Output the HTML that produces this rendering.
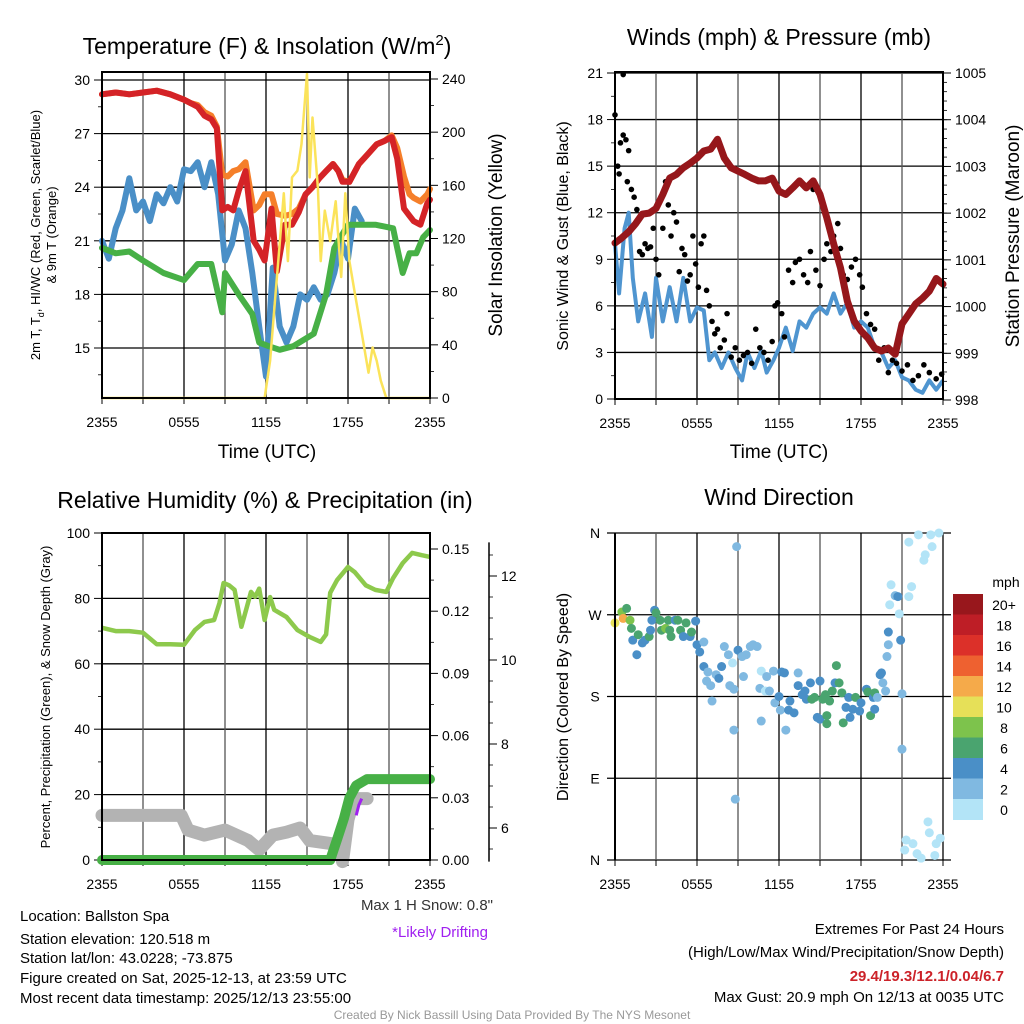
<!DOCTYPE html>
<html><head><meta charset="utf-8">
<style>
body{margin:0;background:#fff;}
svg{display:block;font-family:"Liberation Sans",sans-serif;}
</style></head>
<body>
<svg id="fig" width="1024" height="1024" viewBox="0 0 1024 1024" xmlns="http://www.w3.org/2000/svg">
<rect width="1024" height="1024" fill="#fff"/>
<g id="p1"></g>
<g id="p2"></g>
<g id="p3"></g>
<g id="p4"></g>
<g id="txt" font-size="15" fill="#000">
<text x="20" y="921">Location: Ballston Spa</text>
<text x="20" y="944">Station elevation: 120.518 m</text>
<text x="20" y="963">Station lat/lon: 43.0228; -73.875</text>
<text x="20" y="983">Figure created on Sat, 2025-12-13, at 23:59 UTC</text>
<text x="20" y="1003">Most recent data timestamp: 2025/12/13 23:55:00</text>
<text x="493" y="910" text-anchor="end" fill="#333">Max 1 H Snow: 0.8"</text>
<text x="488" y="937" text-anchor="end" fill="#a020f0">*Likely Drifting</text>
<text x="1004" y="934" text-anchor="end">Extremes For Past 24 Hours</text>
<text x="1004" y="957" text-anchor="end">(High/Low/Max Wind/Precipitation/Snow Depth)</text>
<text x="1004" y="981" text-anchor="end" fill="#cc2229" font-weight="bold">29.4/19.3/12.1/0.04/6.7</text>
<text x="1004" y="1002" text-anchor="end">Max Gust: 20.9 mph On 12/13 at 0035 UTC</text>
<text x="512" y="1019" text-anchor="middle" fill="#999" font-size="12">Created By Nick Bassill Using Data Provided By The NYS Mesonet</text>
</g>
</svg>
<script>
// ---------- DATA ----------
const timeLabels = ["2355","0555","1155","1755","2355"];
// Temperature panel
const tempT   = [0,1,2,3,4,5,6,6.5,7,7.5,8,8.4,8.8,9.2,9.6,10,10.5,11.1,11.5,11.9,12.4,12.8,13.4,13.9,14.4,14.9,15.4,15.9,16.4,16.9,17.3,17.6,18.1,18.8,19.4,20.1,20.7,21.2,21.6,22.1,22.5,22.8,23.3,23.8,24];
const red2m   = [29.2,29.3,29.2,29.3,29.4,29.2,28.9,28.7,28.5,28.0,27.8,27.3,22.7,22.9,22.7,23.8,24.9,21.0,20.5,19.9,22.8,19.3,21.9,21.9,22.6,23.6,24.0,24.5,24.9,25.3,24.9,24.3,24.3,25.3,25.8,26.4,26.6,26.8,25.6,22.8,22.4,22.1,21.9,23.1,23.3];
const orange9m= [29.2,29.3,29.2,29.3,29.4,29.2,28.9,28.7,28.6,28.2,28.0,27.4,24.7,24.6,24.9,25.0,25.4,22.7,23.0,23.6,23.6,22.5,22.4,22.5,22.8,23.6,24.0,24.5,24.9,25.3,24.9,24.4,24.3,25.3,25.8,26.4,26.6,26.9,26.2,24.6,23.6,23.4,23.2,23.6,23.9];
const dewT    = [0,1,2,3,4.5,6,7,8,8.5,8.8,9,10,11,11.5,12.2,13,14,15.5,16.4,17,18,20,21.3,21.6,22,22.5,23,23.5,24];
const dewpt   = [20.6,20.3,20.4,19.9,19.2,18.8,19.7,19.7,18.0,17.0,19.2,18.0,16.9,15.3,15.1,14.9,15.1,15.8,18.0,20.6,21.9,21.9,21.7,20.6,19.2,20.3,20.3,21.2,21.6];
const wcT     = [0,0.5,1,1.5,2,2.5,3,3.5,4,4.5,5,5.5,6,6.5,7,7.5,8,8.5,9,9.5,10,10.5,11,11.5,12,12.5,13,13.5,14,14.5,15,15.5,16,16.5,17,17.5,18,18.5,19];
const windChill=[21,20,21.7,22.7,24.5,22.7,23.2,22.1,23.6,23.1,24,23.2,25,24.9,25.4,24,25.4,23.6,19.9,20.8,22.7,21.7,19.2,16.2,13.4,19.5,16.2,15.3,16.2,18,17.7,18.4,17.7,18,19.2,21,20,22.8,22.1];
const solT    = [0,11.9,12.3,12.7,13,13.3,13.6,13.9,14.3,14.6,15,15.2,15.4,15.8,16,16.3,16.7,17.1,17.5,17.8,18.1,18.5,19,19.5,19.8,20.1,20.4,20.8,24];
const solar   = [0,0,28,79,116,154,103,166,171,191,244,166,211,158,103,141,118,148,91,154,103,79,49,19,38,28,13,0,0];
// Wind panel
const windT   = [0,0.3,0.7,1,1.3,1.7,2.2,2.7,3,3.5,4,4.5,5,5.5,6,6.5,6.9,7.3,7.8,8.3,8.8,9.3,9.7,10.2,10.7,11.1,11.6,12,12.5,13,13.5,14,14.5,15,15.5,16,16.5,17,17.5,18,18.5,19,19.5,20,20.5,21,21.5,22,22.5,23,23.5,24];
const windSpd = [10,6.8,11,12,7.8,5,6.8,4,7.8,5,7.2,5,7.8,5,5.9,5.7,2.5,3,2,3,2,1.2,3,2,3.1,1.7,2.5,3.3,4.6,3.1,5,4.6,5.5,5.9,5.5,6.8,5.5,6.2,4.6,5,4.6,3.3,3,2,2.5,1.4,1.2,0.6,0.4,1.2,0.6,1.2];
const presT   = [0,0.5,1,1.5,2,2.5,3,3.5,4,4.5,5,5.5,6,6.5,7,7.5,8,8.5,9,9.5,10,10.5,11,11.5,12,12.5,13,13.5,14,14.5,15,15.5,16,16.5,17,17.5,18,18.5,19,19.5,20,20.5,21,21.5,22,22.5,23,23.5,24];
const pressure= [1001.36,1001.47,1001.6,1001.77,1001.98,1002.0,1002.1,1002.4,1002.75,1002.83,1002.97,1003.07,1003.18,1003.33,1003.37,1003.58,1003.18,1002.97,1002.9,1002.83,1002.75,1002.69,1002.69,1002.75,1002.47,1002.4,1002.54,1002.69,1002.54,1002.69,1002.4,1001.9,1001.34,1000.83,1000.12,999.69,999.48,999.33,999.11,999.05,999.11,998.98,999.63,999.84,1000.06,1000.18,1000.33,1000.6,1000.48];
const gustT   = [0,0.2,0.3,0.4,0.6,0.6,0.8,0.9,1.0,1.2,1.4,1.6,1.8,2.0,2.2,2.4,2.6,2.8,3.0,3.2,3.5,3.7,3.9,4.1,4.3,4.5,4.7,4.9,5.1,5.3,5.5,5.7,5.9,6.1,6.3,6.5,6.7,6.9,7.1,7.3,7.5,7.7,8.0,8.2,8.5,8.8,9.1,9.4,9.7,10.0,10.3,10.6,10.9,11.2,11.5,11.7,11.9,12.2,12.4,12.7,13.0,13.2,13.5,13.8,14.1,14.3,14.5,14.7,15.0,15.3,15.5,15.8,16.0,16.3,16.5,16.7,17.0,17.3,17.6,17.9,18.1,18.4,18.7,19.0,19.3,19.7,20,20.3,20.6,21,21.4,21.8,22.2,22.6,23,23.5,23.9];
const gust    = [18.3,15,14.5,16.5,17,20.9,16.7,14,16,13.5,13,12.2,9.5,9.3,10,9.7,9.8,11,9,8,11,14,12.5,10.5,12,11.4,8.2,9.7,9.3,7.6,8,10.5,8.7,7.2,10,10.5,7,6,5,4.2,4.5,3.3,3.8,5.5,2.7,3.3,2.5,2.8,3.0,2.3,4.5,3.3,3,2.5,3.7,6,6.2,5.5,4,8.3,7.5,8.8,9,8,7.5,9.5,13.5,8.3,7.3,9,10,9.5,10.5,11.3,9.7,8,7.7,8.5,9,8,7.2,5.5,4.8,4.5,2.5,3.3,1.7,2.5,2.3,1.8,2.2,1.2,1.5,2.2,1.7,1.3,1.6];
// Humidity panel
const rhT     = [0,1,2,3,4,5,6,6.8,7.5,8.2,8.6,8.9,9.3,9.7,10.2,10.6,10.9,11.2,11.5,11.9,12.3,12.6,13.5,14.3,15.2,16,16.4,16.7,17.2,18,18.5,19.3,20,20.8,21.3,22,22.7,23.4,24];
const rh      = [71,70,70,69.5,66,66,65.8,70.3,72.8,73.4,78.6,84.7,84,82.6,71.3,77.4,82,80.5,83,73.4,80.4,76.5,74.3,70.3,68.2,66.7,69,81.7,85.6,89.6,88,84,82.6,82,86.2,90.8,93.9,93.2,92.7];
const precipT = [0,16.7,17.2,17.7,18.1,18.6,19.4,24];
const precip  = [0,0,0.01,0.02,0.03,0.036,0.039,0.039];
const snowT   = [0,5.8,6.3,7.5,9,10.7,11.5,12.5,13.5,14.5,15.2,16.5,17.3,17.6,18,18.4,18.8,19.4];
const snow    = [6.3,6.3,5.95,5.83,5.95,5.7,5.48,5.83,5.9,6.0,5.7,5.64,5.6,5.2,6.2,6.67,6.7,6.7];
const driftT  = [18.6,18.8,19.0];
const drift   = [6.3,6.55,6.7];
// Wind direction panel
const dirT = [0,0.5,0.6,0.85,1.1,1.2,1.3,1.7,1.6,2.0,2.2,2.5,2.6,2.7,2.9,3.0,3.3,3.4,3.7,3.9,4.0,4.1,4.4,4.6,4.8,5.0,5.2,5.5,5.6,5.9,6.0,6.2,6.5,6.5,6.8,6.7,7.0,7.1,7.4,7.6,7.8,8.0,8.3,8.4,8.6,8.7,8.9,8.7,8.8,9.0,9.3,9.4,9.6,9.9,10.1,10.4,10.6,10.7,10.7,11.0,11.1,11.3,11.6,11.7,12.0,12.2,12.1,12.4,12.5,12.7,12.8,13.1,13.4,13.4,13.7,13.9,14.0,14.3,14.4,14.6,14.8,15.0,15.0,15.2,15.4,15.5,15.5,15.7,15.9,16.1,16.2,16.4,16.6,16.7,16.9,17.1,17.2,17.4,17.6,17.9,18.0,18.4,18.5,18.7,18.9,19.0,19.0,19.2,19.4,19.5,19.6,19.8,19.9,20.0,20.0,20.1,20.2,20.5,20.7,20.8,20.9,21.0,21.0,21.2,21.3,21.5,21.5,21.7,21.8,22.1,22.2,22.4,22.6,22.7,22.9,23.0,23.1,23.2,23.4,23.5,23.7,23.8];
const dirDeg = [261,273,266,277,264,255,242,248,226,239,242,246,253,264,275,272,264,253,255,264,253,246,264,264,253,246,261,246,251,263,237,229,240,213,207,197,192,175,204,200,213,235,226,192,217,188,345,143,67,231,224,202,226,235,237,235,189,208,153,186,202,186,208,173,180,207,165,206,143,165,175,162,192,206,182,186,177,195,177,179,157,155,197,177,182,159,150,175,186,195,214,195,184,151,168,179,157,166,179,164,173,188,185,159,179,166,184,179,204,206,195,186,224,237,251,281,303,291,290,271,242,183,122,11,22,350,290,301,18,7,358,2,330,336,42,30,358,345,5,18,360,24];
const dirSpd = [10,9,12,7,8,6,4,6,4,4,4,6,4,4,4,7,6,6,9,6,6,6,4,6,6,4,7,4,6,4,4,4,2,4,2,2,2,2,2,4,4,2,2,2,0,2,2,2,2,4,2,2,2,2,2,2,2,0,2,0,2,2,2,2,4,4,2,4,2,4,4,4,4,2,4,4,4,4,6,6,4,4,4,6,6,6,6,6,6,4,6,6,6,6,4,4,4,4,6,4,4,4,6,6,4,4,6,2,4,4,2,2,2,2,4,0,0,2,4,0,4,2,2,0,0,0,0,0,0,0,0,0,0,0,0,0,0,0,0,0,0,0];
const cbLabels = ["20+","18","16","14","12","10","8","6","4","2","0"];
const cbColors = ["#98171c","#be1e26","#dc3029","#ee6130","#f5aa4a","#e6e058","#7dc34c","#4aa46f","#4a8fc7","#80b9e1","#b3e4f7"];

// ---------- HELPERS ----------
const NS="http://www.w3.org/2000/svg";
function mk(parent,tag,attrs,text){const e=document.createElementNS(NS,tag);for(const k in attrs)e.setAttribute(k,attrs[k]);if(text!==undefined)e.textContent=text;parent.appendChild(e);return e;}
const X0=102,X1=430,RX0=615,RX1=943;
function xs(x0,x1){return t=>x0+(x1-x0)*t/24;}
function lin(d0,d1,p0,p1){return v=>p0+(v-d0)*(p1-p0)/(d1-d0);}
function pathOf(ts,vs,fx,fy){return ts.map((t,i)=>(i?"L":"M")+fx(t).toFixed(1)+","+fy(vs[i]).toFixed(1)).join("");}

function frame(g,x0,x1,y0,y1){
  const fx=xs(x0,x1);
  for(let i=0;i<=8;i++){const x=fx(i*3);
    const l=mk(g,"line",{x1:x,x2:x,y1:y0,y2:y1,stroke:i%2?"#555":"#000","stroke-width":1.3});
    
    
    mk(g,"line",{x1:x,x2:x,y1:y1,y2:y1+6,stroke:"#000","stroke-width":1});
  }
  timeLabels.forEach((s,i)=>{const t=mk(g,"text",{x:fx(i*6),y:y1+29,"font-size":14,"text-anchor":"middle"},s);
    
    });
}
function border(g,x0,x1,y0,y1){const r=mk(g,"rect",{x:x0,y:y0,width:x1-x0,height:y1-y0,fill:"none",stroke:"#000","stroke-width":2});
  
  }
function hgrid(g,y,x0,x1){mk(g,"line",{x1:x0,x2:x1,y1:y,y2:y,stroke:"#000","stroke-width":1.3});}
function ytick(g,x,y,label,side,len,fs){
  mk(g,"line",{x1:x,x2:x+(side<0?-len:len),y1:y,y2:y,stroke:"#000","stroke-width":1});
  if(label!==null){const t=mk(g,"text",{x:side<0?x-12:x+12,y:y+5,"font-size":fs||14,"text-anchor":side<0?"end":"start"},label);
    
    }
}
function minor(g,x,y,side){mk(g,"line",{x1:x,x2:x+(side<0?-4:4),y1:y,y2:y,stroke:"#000","stroke-width":0.8});}

// ---------- PANEL 1 ----------
(function(){
  const g=document.getElementById("p1");const Y0=72,Y1=398;
  const fx=xs(X0,X1),fy=lin(30,15,80,348),fs=lin(0,240,398,79);
  [30,27,24,21,18,15].forEach(v=>{hgrid(g,fy(v),X0,X1);ytick(g,X0,fy(v),String(v),-1,8);});
  for(let v=13.5;v<30;v+=3)minor(g,X0,fy(v),-1);
  [0,40,80,120,160,200,240].forEach(v=>ytick(g,X1,fs(v),String(v),1,8,14));
  for(let v=20;v<240;v+=40)minor(g,X1,fs(v),1);
  frame(g,X0,X1,Y0,Y1);
  const s=[[windChill,wcT,"#4a8fc7",6,"wind-chill-line"],[dewpt,dewT,"#47b046",6,"dewpoint-line"],[orange9m,tempT,"#f57f2a",6,"temp-9m-line"],[red2m,tempT,"#d42327",6,"temp-2m-line"]];
  s.forEach(a=>{const p=mk(g,"path",{d:pathOf(a[1],a[0],fx,fy),fill:"none",stroke:a[2],"stroke-width":a[3],"stroke-linejoin":"round","stroke-linecap":"round"});
    
    });
  const sp=mk(g,"path",{d:pathOf(solT,solar,fx,fs),fill:"none",stroke:"#fbe35a","stroke-width":2.5,"stroke-linejoin":"round"});
  
  
  border(g,X0,X1,Y0,Y1);
  const t=mk(g,"text",{x:267,y:54,"font-size":23,"text-anchor":"middle"});t.innerHTML='Temperature (F) &amp; Insolation (W/m<tspan dy="-9" font-size="15">2</tspan><tspan dy="9">)</tspan>';
  
  
  const xl=mk(g,"text",{x:267,y:458,"font-size":19,"text-anchor":"middle"},"Time (UTC)");
  
  
  const yl=mk(g,"text",{transform:"translate(40,235) rotate(-90)","font-size":13,"text-anchor":"middle"});yl.innerHTML='2m T, T<tspan dy="4" font-size="9">d</tspan><tspan dy="-4">, HI/WC (Red, Green, Scarlet/Blue)</tspan>';
  
  
  const yl2=mk(g,"text",{transform:"translate(56,235) rotate(-90)","font-size":13,"text-anchor":"middle"},"& 9m T (Orange)");
  
  
  const yr=mk(g,"text",{transform:"translate(502,235) rotate(-90)","font-size":19,"text-anchor":"middle"},"Solar Insolation (Yellow)");
  
  
})();

// ---------- PANEL 2 ----------
(function(){
  const g=document.getElementById("p2");const Y0=72,Y1=399;
  const fx=xs(RX0,RX1),fy=lin(0,21,399,73),fp=lin(998,1005,400,73);
  [0,3,6,9,12,15,18,21].forEach(v=>{hgrid(g,fy(v),RX0,RX1);ytick(g,RX0,fy(v),String(v),-1,8);});
  for(let v=1.5;v<21;v+=3)minor(g,RX0,fy(v),-1);
  for(let v=998;v<=1005;v++)ytick(g,RX1,fp(v),String(v),1,8);
  for(let v=998;v<1005;v+=0.2)minor(g,RX1,fp(v),1);
  frame(g,RX0,RX1,Y0,Y1);
  const w=mk(g,"path",{d:pathOf(windT,windSpd,fx,fy),fill:"none",stroke:"#4f95d0","stroke-width":4,"stroke-linejoin":"round"});
  
  
  gustT.forEach((t,i)=>{const c=mk(g,"circle",{cx:fx(t),cy:fy(gust[i]),r:2.8,fill:"#000"});
    
    });
  const p=mk(g,"path",{d:pathOf(presT,pressure,fx,fp),fill:"none",stroke:"#96171b","stroke-width":7,"stroke-linejoin":"round","stroke-linecap":"round"});
  
  
  border(g,RX0,RX1,Y0,Y1);
  const t=mk(g,"text",{x:779,y:45,"font-size":23,"text-anchor":"middle"},"Winds (mph) & Pressure (mb)");
  
  
  const xl=mk(g,"text",{x:779,y:458,"font-size":19,"text-anchor":"middle"},"Time (UTC)");
  
  
  const yl=mk(g,"text",{transform:"translate(568,236) rotate(-90)","font-size":16,"text-anchor":"middle"},"Sonic Wind & Gust (Blue, Black)");
  
  
  const yr=mk(g,"text",{transform:"translate(1019,236) rotate(-90)","font-size":19,"text-anchor":"middle"},"Station Pressure (Maroon)");
  
  
})();

// ---------- PANEL 3 ----------
(function(){
  const g=document.getElementById("p3");const Y0=533,Y1=860;
  const fx=xs(X0,X1),fy=lin(0,100,860,533),fpr=lin(0,0.15,860,549),fsn=lin(6,12,828,576);
  [0,20,40,60,80,100].forEach(v=>{hgrid(g,fy(v),X0,X1);ytick(g,X0,fy(v),String(v),-1,8);});
  for(let v=10;v<100;v+=20)minor(g,X0,fy(v),-1);
  [0,0.03,0.06,0.09,0.12,0.15].forEach(v=>ytick(g,X1,fpr(v),v.toFixed(2),1,8));
  for(let v=0.015;v<0.16;v+=0.03)minor(g,X1,fpr(v),1);
  mk(g,"line",{x1:489,x2:489,y1:fsn(5.2),y2:fsn(12.8),stroke:"#000","stroke-width":1.5});
  [6,8,10,12].forEach(v=>ytick(g,489,fsn(v),String(v),1,8));
  for(let v=5.5;v<13;v+=0.5)if(v%2)minor(g,489,fsn(v),1);
  frame(g,X0,X1,Y0,Y1);
  const sn=mk(g,"path",{d:pathOf(snowT,snow,fx,fsn),fill:"none",stroke:"#b3b3b3","stroke-width":13,"stroke-linejoin":"round","stroke-linecap":"round"});
  
  
  const dr=mk(g,"path",{d:pathOf(driftT,drift,fx,fsn),fill:"none",stroke:"#a020f0","stroke-width":3});
  
  
  const r=mk(g,"path",{d:pathOf(rhT,rh,fx,fy),fill:"none",stroke:"#8dc94c","stroke-width":4.5,"stroke-linejoin":"round"});
  
  
  const p=mk(g,"path",{d:pathOf(precipT,precip,fx,fpr),fill:"none",stroke:"#47b046","stroke-width":10,"stroke-linejoin":"round","stroke-linecap":"round"});
  
  
  border(g,X0,X1,Y0,Y1);
  const t=mk(g,"text",{x:265,y:508,"font-size":23,"text-anchor":"middle"},"Relative Humidity (%) & Precipitation (in)");
  
  
  const yl=mk(g,"text",{transform:"translate(50,697) rotate(-90)","font-size":13,"text-anchor":"middle"},"Percent, Precipitation (Green), & Snow Depth (Gray)");
  
  
})();

// ---------- PANEL 4 ----------
(function(){
  const g=document.getElementById("p4");const Y0=533,Y1=860;
  const fx=xs(RX0,RX1),fy=lin(0,360,860,533);
  [[0,"N"],[90,"E"],[180,"S"],[270,"W"],[360,"N"]].forEach(a=>{hgrid(g,fy(a[0]),RX0-8,RX1+8);
    const t=mk(g,"text",{x:RX0-20,y:fy(a[0])+5,"font-size":14,"text-anchor":"middle"},a[1]);
    
    });
  frame(g,RX0,RX1,Y0,Y1);
  function col(s){const i=Math.min(10,Math.floor(s/2));return cbColors[10-i];}
  dirT.forEach((t,i)=>{const c=mk(g,"circle",{cx:fx(t),cy:fy(dirDeg[i]),r:4.5,fill:col(dirSpd[i])});
    
    });
  mk(g,"line",{x1:RX0,x2:RX0,y1:Y0,y2:Y1,stroke:"#000","stroke-width":2});
  const t=mk(g,"text",{x:779,y:505,"font-size":23,"text-anchor":"middle"},"Wind Direction");
  
  
  const yl=mk(g,"text",{transform:"translate(568,697) rotate(-90)","font-size":16,"text-anchor":"middle"},"Direction (Colored By Speed)");
  
  
  const cb=mk(g,"g",{});
  
  
  const bh=20.5;
  cbColors.forEach((c,i)=>{mk(cb,"rect",{x:953,y:594+i*bh,width:30,height:bh+0.5,fill:c});
    const l=mk(cb,"text",{x:1004,y:594+i*bh+16,"font-size":14,"text-anchor":"middle"},cbLabels[i]);
    
    });
  const u=mk(cb,"text",{x:1006,y:587,"font-size":14,"text-anchor":"middle"},"mph");
  
  
})();
</script>
</body></html>
